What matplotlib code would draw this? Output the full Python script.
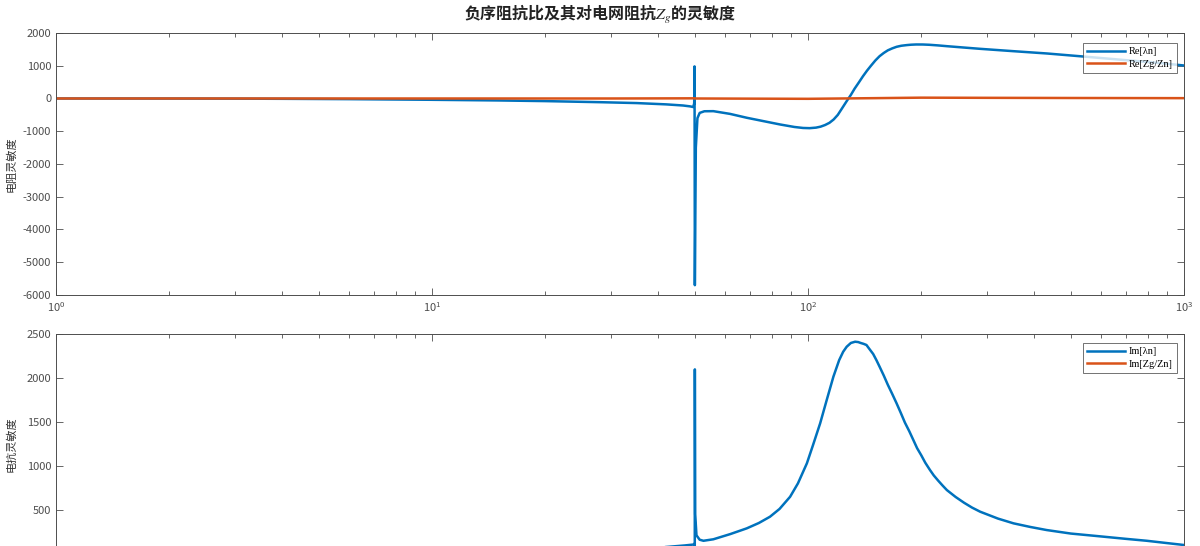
import matplotlib
matplotlib.use("Agg")
import matplotlib.pyplot as plt
from matplotlib.ticker import LogLocator, NullFormatter

plt.rcParams['font.family'] = ['Noto Sans CJK SC', 'DejaVu Sans']
plt.rcParams['axes.unicode_minus'] = False
plt.rcParams['mathtext.fontset'] = 'stix'

# ---- data ----
title = '负序阻抗比及其对电网阻抗$Z_g$的灵敏度'
ylabel_top = '电阻灵敏度'
ylabel_bot = '电抗灵敏度'
labels_top = ['Re[λn]', 'Re[Zg/Zn]']
labels_bot = ['Im[λn]', 'Im[Zg/Zn]']

f_re = [1, 2, 3, 4, 6, 10, 15, 20, 28, 35, 42, 46.5, 48.5, 49.5, 49.8, 49.9,
        50.0, 50.3, 50.8, 51.5, 53, 56, 62, 68.8, 76, 84.3, 92, 97, 101, 105, 108, 111, 114,
        117, 120, 123, 126.7, 130, 133, 136.5, 140, 143.5, 147, 151, 155, 159, 163, 167.5, 172,
        177, 183, 188, 194, 202, 210, 222, 234, 260, 287,
        351, 432, 552, 700, 850, 1000]
re_lam = [0, -2, -5, -10, -20, -40, -60, -80, -113, -140, -180, -214, -240, -260, -150, 980,
          -5700, -1500, -600, -440, -390, -387, -470, -590, -690, -794, -870, -900, -906, -890, -860, -810, -743,
          -640, -500, -310, -81, 110, 300, 490, 680, 850, 1000, 1160, 1292, 1390, 1470, 1530, 1578,
          1610, 1630, 1642, 1649, 1648, 1640, 1620, 1597, 1555, 1516,
          1445, 1374, 1272, 1170, 1090, 1007]

f_re_zg = [1, 10, 30, 49.9, 50, 50.1, 70, 100, 150, 200, 300, 500, 1000]
re_zg = [0, 0, 0, 5, 0, 0, -5, -10, 10, 25, 20, 15, 10]

f_im = [1, 5, 10, 20, 30, 40, 47, 49.5, 49.9, 49.97, 50.0, 50.1, 50.5, 51.5, 52.7, 56,
        62.1, 68.7, 74, 79.2, 84, 89.6, 94, 99.3, 103, 107.7, 112, 116.8, 121, 124, 126.7,
        130, 133.4, 136, 138, 140.5, 143, 146, 149, 152, 155, 159, 163, 167.5, 172, 176.5, 181,
        186, 190.6, 195, 200, 205, 211, 216, 222, 228, 234, 247, 260, 273, 287,
        320, 352, 390, 431, 500, 586, 700, 796, 900, 1000]
im_lam = [0, 10, 20, 35, 50, 70, 95, 105, 115, -300, 2095, 450, 210, 160, 148, 165,
          224, 289, 350, 421, 510, 648, 800, 1028, 1230, 1482, 1740, 2012, 2200, 2295, 2352,
          2395, 2409, 2405, 2395, 2385, 2372, 2320, 2270, 2200, 2125, 2025, 1920, 1815, 1709, 1600, 1490,
          1390, 1292, 1200, 1120, 1035, 952, 890, 830, 775, 724, 645, 580, 525, 478,
          400, 346, 305, 270, 230, 202, 170, 148, 122, 100]

f_im_zg = [1, 10, 50, 100, 1000]
im_zg = [0, 0, 0, 0, 0]

blue = '#0072BD'
orange = '#D95319'
tickcol = '#4d4d4d'

fig = plt.figure(figsize=(12, 5.46), dpi=100)
ax1 = fig.add_axes([0.0467, 0.4597, 0.94, 0.4799])
ax2 = fig.add_axes([0.0467, -0.0143, 0.94, 0.4031])

ax1.plot(f_re, re_lam, color=blue, lw=1.8, label=labels_top[0])
ax1.plot(f_re_zg, re_zg, color=orange, lw=1.8, label=labels_top[1])
ax2.plot(f_im, im_lam, color=blue, lw=1.8, label=labels_bot[0])
ax2.plot(f_im_zg, im_zg, color=orange, lw=1.8, label=labels_bot[1])

for ax, anchor_y in ((ax1, 0.962), (ax2, 0.958)):
    ax.set_xscale('log')
    ax.set_xlim(1, 1000)
    ax.tick_params(which='both', direction='in', top=True, right=True,
                   labelsize=8, labelcolor=tickcol, color=tickcol, width=0.6)
    ax.tick_params(which='major', length=5)
    ax.tick_params(which='minor', length=3)
    ax.xaxis.set_major_locator(LogLocator(base=10, numticks=10))
    ax.xaxis.set_minor_locator(LogLocator(base=10, subs=range(2, 10), numticks=20))
    ax.xaxis.set_minor_formatter(NullFormatter())
    for s in ax.spines.values():
        s.set_color(tickcol)
        s.set_linewidth(0.7)
    leg = ax.legend(loc='upper right', handlelength=3.6,
                    prop={'family': 'Liberation Serif', 'size': 7.5},
                    frameon=True, fancybox=False, edgecolor='#333333',
                    borderpad=0.4, labelspacing=0.3, handletextpad=0.4,
                    borderaxespad=0, bbox_to_anchor=(0.9938, anchor_y))
    leg.get_frame().set_linewidth(0.6)

ax1.set_ylim(-6000, 2000)
ax1.set_yticks(range(-6000, 2001, 1000))
ax2.set_ylim(0, 2500)
ax2.set_yticks(range(500, 2501, 500))
ax2.tick_params(axis='x', which='both', labelbottom=False)

ax1.set_ylabel(ylabel_top, fontsize=8, color='#333333')
ax2.set_ylabel(ylabel_bot, fontsize=8, color='#333333')
ax1.yaxis.set_label_coords(-0.035, 0.5)
ax2.yaxis.set_label_coords(-0.035, 0.5)

fig.text(0.5, 0.973, title, ha='center', va='center', fontsize=11.5,
         fontweight='bold', color='#222222')

fig.savefig('out.png', dpi=100)
